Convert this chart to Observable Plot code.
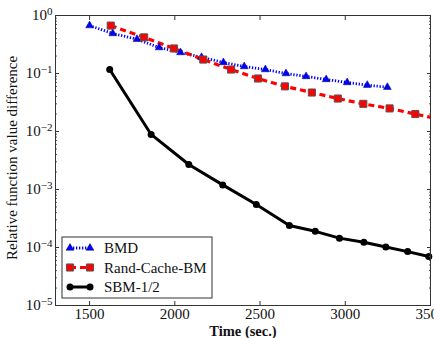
<!DOCTYPE html>
<html><head><meta charset="utf-8">
<script src="https://cdn.jsdelivr.net/npm/d3@7"></script>
<script src="https://cdn.jsdelivr.net/npm/@observablehq/plot@0.6"></script>
<style>
html,body{margin:0;padding:0;background:#fff;overflow:hidden;}
#chart{width:434px;height:338px;}
</style></head><body><div id="chart"></div>
<script>
const seriesNames = ["BMD", "Rand-Cache-BM", "SBM-1/2"];
const bmdTime = [1500,1636,1778,1908,2033,2157,2285,2407,2531,2652,2770,2888,3011,3129,3247];
const bmdValue = [0.67,0.49,0.39,0.28,0.23,0.19,0.155,0.132,0.117,0.100,0.089,0.079,0.070,0.063,0.058];
const rcbmTime = [1624,1820,1995,2167,2330,2488,2646,2804,2956,3106,3260,3411,3565];
const rcbmValue = [0.67,0.42,0.27,0.174,0.117,0.082,0.060,0.047,0.037,0.030,0.025,0.020,0.016];
const sbmTime = [1618,1861,2082,2281,2478,2672,2824,2966,3109,3238,3366,3490];
const sbmValue = [0.117,0.0089,0.0027,0.0012,0.00055,0.00024,0.00019,0.000145,0.000123,0.000102,0.000085,0.000070];
const xTicks = [1500,2000,2500,3000,3500];
const yTicks = [1,0.1,0.01,0.001,0.0001,0.00001];
const yMinorTicks = [];
for (let e = -5; e < 0; e++) for (let m = 2; m <= 9; m++) yMinorTicks.push(m * Math.pow(10, e));
const xLabel = "Time (sec.)";
const yLabel = "Relative function value difference";

const rows = (name, ts, vs) => ts.map((t, i) => ({series: name, t, v: vs[i]}));
const bmd = rows(seriesNames[0], bmdTime, bmdValue);
const rcbm = rows(seriesNames[1], rcbmTime, rcbmValue);
const sbm = rows(seriesNames[2], sbmTime, sbmValue);

const blank = () => "";
const plot = Plot.plot({
  width: 434, height: 338,
  marginLeft: 55, marginRight: 4, marginTop: 15, marginBottom: 33,
  style: {fontFamily: "'Liberation Serif', serif", fontSize: "15px", background: "white", color: "#111"},
  x: {type: "linear", domain: [1300, 3500]},
  y: {type: "log", domain: [1e-5, 1]},
  marks: [
    Plot.line(bmd, {x: "t", y: "v", stroke: "#0000ff", strokeWidth: 2.8, strokeDasharray: "1.3,1.7", strokeLinecap: "butt", clip: true}),
    Plot.line(rcbm, {x: "t", y: "v", stroke: "#ff0000", strokeWidth: 3.2, strokeDasharray: "6,4", strokeLinecap: "butt", clip: true}),
    Plot.line(sbm, {x: "t", y: "v", stroke: "#000000", strokeWidth: 3, clip: true}),
    Plot.dot(bmd, {x: "t", y: "v", symbol: "triangle", r: 2.9, fill: "#0000ff", stroke: "#00006a", strokeWidth: 0.5}),
    Plot.dot(rcbm, {x: "t", y: "v", symbol: "square", r: 4, fill: "#ff0000", stroke: "#555", strokeWidth: 1, clip: true}),
    Plot.dot(sbm, {x: "t", y: "v", symbol: "circle", r: 3.5, fill: "#000"}),
    Plot.axisX({ticks: xTicks, anchor: "bottom", tickSize: -4, tickFormat: blank, label: null, stroke: "#333"}),
    Plot.axisX({ticks: xTicks, anchor: "top", tickSize: -4, tickFormat: blank, label: null, stroke: "#333"}),
    Plot.axisX({ticks: xTicks, anchor: "bottom", tickSize: 0, tickPadding: 3, label: null, fontSize: 15, fill: "#111", tickFormat: d => String(d)}),
    Plot.axisY({ticks: yTicks, anchor: "left", tickSize: -4, tickFormat: blank, label: null, stroke: "#333"}),
    Plot.axisY({ticks: yTicks, anchor: "right", tickSize: -4, tickFormat: blank, label: null, stroke: "#333"}),
    Plot.axisY({ticks: yMinorTicks, anchor: "left", tickSize: -2, tickFormat: blank, label: null, stroke: "#555"}),
    Plot.axisY({ticks: yMinorTicks, anchor: "right", tickSize: -2, tickFormat: blank, label: null, stroke: "#555"}),
    Plot.axisY({ticks: yTicks, anchor: "left", tickSize: 0, tickPadding: 3, label: null, fontSize: 15, fill: "#111", tickFormat: d => "10^" + Math.round(Math.log10(d))}),
    Plot.frame({stroke: "#333", strokeWidth: 1})
  ]
});
document.getElementById("chart").appendChild(plot);

const svg = d3.select(plot);
// superscript exponents on y tick labels
svg.selectAll("text").each(function() {
  const t = this.textContent;
  if (/^10\^/.test(t)) {
    const e = t.slice(3).replace("-", "\u2212");
    const sel = d3.select(this);
    sel.text(null);
    sel.append("tspan").text("10");
    sel.append("tspan").attr("dy", "-0.5em").attr("font-size", "11px").text(e);
  }
});

// axis titles
svg.append("text").attr("x", 243).attr("y", 333).attr("text-anchor", "middle")
  .attr("dominant-baseline", "middle").attr("font-weight", "bold").attr("font-size", "14.5px")
  .attr("fill", "#111").text(xLabel);
svg.append("text").attr("transform", "translate(14,158) rotate(-90)").attr("text-anchor", "middle")
  .attr("dominant-baseline", "middle").attr("font-size", "15px").attr("fill", "#111").text(yLabel);

// legend
const lg = svg.append("g");
lg.append("rect").attr("x", 62).attr("y", 237).attr("width", 150).attr("height", 61)
  .attr("fill", "white").attr("stroke", "#333").attr("stroke-width", 1);
const items = [
  {name: seriesNames[0], stroke: "#0000ff", dash: "1.3,1.7", sw: 2.8, sym: d3.symbolTriangle, r: 2.9, fill: "#0000ff", ms: "#00006a", msw: 0.5},
  {name: seriesNames[1], stroke: "#ff0000", dash: "6,4", sw: 3.2, sym: d3.symbolSquare, r: 4, fill: "#ff0000", ms: "#555", msw: 1},
  {name: seriesNames[2], stroke: "#000", dash: null, sw: 3, sym: d3.symbolCircle, r: 3.5, fill: "#000", ms: "none", msw: 0}
];
items.forEach((it, i) => {
  const y = 248 + i * 19.5;
  lg.append("line").attr("x1", 70).attr("x2", 90).attr("y1", y).attr("y2", y)
    .attr("stroke", it.stroke).attr("stroke-width", it.sw).attr("stroke-dasharray", it.dash);
  [70, 90].forEach(x => {
    lg.append("path").attr("d", d3.symbol(it.sym, Math.PI * it.r * it.r)())
      .attr("transform", `translate(${x},${y})`).attr("fill", it.fill)
      .attr("stroke", it.ms).attr("stroke-width", it.msw);
  });
  lg.append("text").attr("x", 104).attr("y", y).attr("dy", "0.35em").attr("text-anchor", "start")
    .attr("font-size", "15px").attr("fill", "#111").text(it.name);
});
</script></body></html>
